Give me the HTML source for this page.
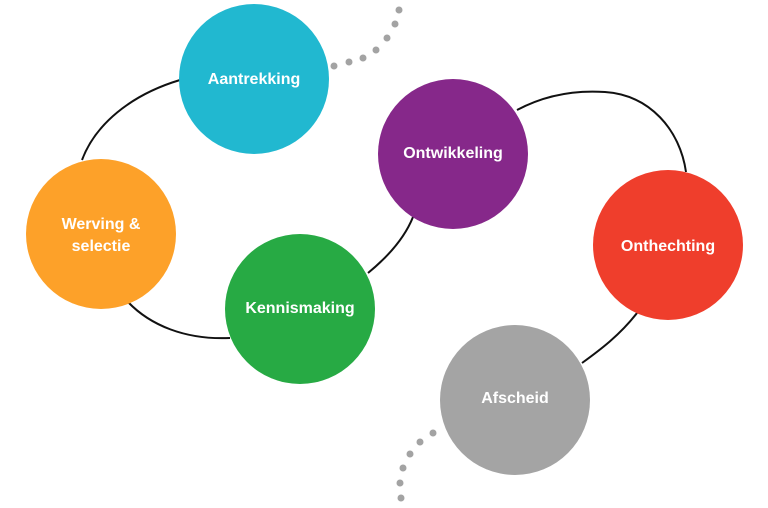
<!DOCTYPE html>
<html><head><style>
html,body{margin:0;padding:0;background:#fff;}
svg{display:block}
text{font-family:"Liberation Sans",sans-serif;font-weight:bold;font-size:16px;fill:#fff;text-anchor:middle}
</style></head><body>
<svg width="768" height="508" viewBox="0 0 768 508">
<g fill="none" stroke="#111" stroke-width="2">
<path d="M180,80 C130,95 95,125 82,160"/>
<path d="M128,302 C150,325 185,340 230,338"/>
<path d="M368,273 C390,255 405,237 413,217"/>
<path d="M517,110 C545,95 575,90 605,92 C650,95 680,130 686,172"/>
<path d="M637,313 C620,335 600,350 582,363"/>
</g>
<g fill="#a3a3a3">
<circle cx="334" cy="66" r="3.5"/><circle cx="349" cy="62" r="3.5"/><circle cx="363" cy="58" r="3.5"/><circle cx="376" cy="50" r="3.5"/><circle cx="387" cy="38" r="3.5"/><circle cx="395" cy="24" r="3.5"/><circle cx="399" cy="10" r="3.5"/>
<circle cx="433" cy="433" r="3.5"/><circle cx="420" cy="442" r="3.5"/><circle cx="410" cy="454" r="3.5"/><circle cx="403" cy="468" r="3.5"/><circle cx="400" cy="483" r="3.5"/><circle cx="401" cy="498" r="3.5"/>
</g>
<circle cx="254" cy="79" r="75" fill="#21b8d0"/>
<circle cx="101" cy="234" r="75" fill="#fda129"/>
<circle cx="300" cy="309" r="75" fill="#27aa44"/>
<circle cx="453" cy="154" r="75" fill="#86288a"/>
<circle cx="668" cy="245" r="75" fill="#ef3e2c"/>
<circle cx="515" cy="400" r="75" fill="#a4a4a4"/>
<text x="254" y="84">Aantrekking</text>
<text x="101" y="229">Werving &amp;</text>
<text x="101" y="251">selectie</text>
<text x="300" y="313">Kennismaking</text>
<text x="453" y="158">Ontwikkeling</text>
<text x="668" y="251">Onthechting</text>
<text x="515" y="403">Afscheid</text>
</svg>
</body></html>
